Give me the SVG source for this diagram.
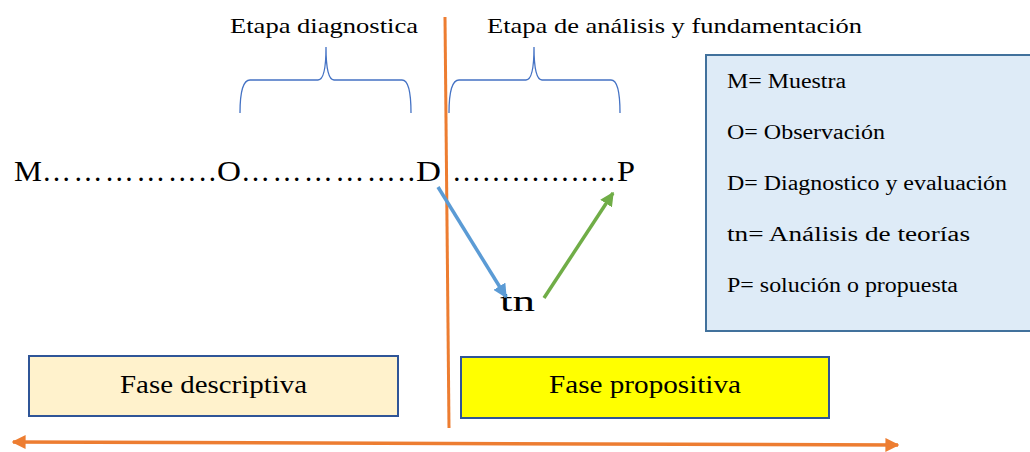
<svg xmlns="http://www.w3.org/2000/svg" width="1030" height="452" viewBox="0 0 1030 452">
<style>
text{font-family:'Liberation Serif','DejaVu Serif',serif;fill:#000}
.brace{fill:none;stroke:#4472C4;stroke-width:1.3}
.hdr{font-size:22px}
.leg{font-size:20px}
.big{font-size:29px}
.fase{font-size:25px}
</style>
<defs>
<marker id="ab" viewBox="0 0 10 10" refX="9" refY="5" markerWidth="4" markerHeight="4" orient="auto"><path d="M0,0 L10,5 L0,10 z" fill="#5B9BD5"/></marker>
<marker id="ag" viewBox="0 0 10 10" refX="9" refY="5" markerWidth="4" markerHeight="4" orient="auto"><path d="M0,0 L10,5 L0,10 z" fill="#70AD47"/></marker>
<marker id="ao" viewBox="0 0 10 10" refX="9" refY="5" markerWidth="4" markerHeight="4" orient="auto-start-reverse"><path d="M0,0 L10,5 L0,10 z" fill="#ED7D31"/></marker>
</defs>
<g id="headers">
<text class="hdr" x="230" y="33" textLength="188" lengthAdjust="spacingAndGlyphs">Etapa diagnostica</text>
<text class="hdr" x="487" y="33" textLength="375" lengthAdjust="spacingAndGlyphs">Etapa de análisis y fundamentación</text>
</g>
<g id="braces">
<path class="brace" d="M240,113 Q240,80 250,80 L318,80 Q326,80 326,47 Q326,80 334,80 L402,80 Q411,80 411,113"/>
<path class="brace" d="M449,113 Q449,80 459,80 L526,80 Q534,80 534,47 Q534,80 542,80 L611,80 Q620,80 620,113"/>
</g>
<g id="sequence">
<text class="big" x="14" y="181" textLength="28" lengthAdjust="spacingAndGlyphs">M</text>
<text class="big" x="42" y="181" textLength="174" lengthAdjust="spacing">……………..</text>
<text class="big" x="217" y="181" textLength="24" lengthAdjust="spacingAndGlyphs">O</text>
<text class="big" x="241" y="181" textLength="174" lengthAdjust="spacing">……………..</text>
<text class="big" x="416" y="181" textLength="25" lengthAdjust="spacingAndGlyphs">D</text>
<text class="big" x="452" y="181" textLength="163" lengthAdjust="spacing">……………..</text>
<text class="big" x="617" y="181" textLength="18" lengthAdjust="spacingAndGlyphs">P</text>
</g>
<g id="tn"><text class="big" x="500" y="311" textLength="35" lengthAdjust="spacingAndGlyphs">tn</text></g>
<g id="legend">
<rect x="706" y="55" width="330" height="276" fill="#DEEBF7" stroke="#41719C" stroke-width="2"/>
<text class="leg" x="727" y="88" textLength="119" lengthAdjust="spacingAndGlyphs">M= Muestra</text>
<text class="leg" x="727" y="139" textLength="158" lengthAdjust="spacingAndGlyphs">O= Observación</text>
<text class="leg" x="727" y="190" textLength="280" lengthAdjust="spacingAndGlyphs">D= Diagnostico y evaluación</text>
<text class="leg" x="727" y="241" textLength="243" lengthAdjust="spacingAndGlyphs">tn= Análisis de teorías</text>
<text class="leg" x="727" y="292" textLength="231" lengthAdjust="spacingAndGlyphs">P= solución o propuesta</text>
</g>
<g id="fase-descriptiva">
<rect x="29" y="356" width="369" height="60" fill="#FFF2CC" stroke="#2F5597" stroke-width="2"/>
<text class="fase" x="120" y="393" textLength="187" lengthAdjust="spacingAndGlyphs">Fase descriptiva</text>
</g>
<g id="fase-propositiva">
<rect x="461" y="357" width="368" height="61" fill="#FFFF00" stroke="#2F5597" stroke-width="2"/>
<text class="fase" x="549" y="393" textLength="192" lengthAdjust="spacingAndGlyphs">Fase propositiva</text>
</g>
<g id="connectors">
<line x1="445" y1="17" x2="449" y2="428" stroke="#ED7D31" stroke-width="3"/>
<line x1="438" y1="187" x2="506" y2="297" stroke="#5B9BD5" stroke-width="3.5" marker-end="url(#ab)"/>
<line x1="544" y1="298" x2="613" y2="193" stroke="#70AD47" stroke-width="3.5" marker-end="url(#ag)"/>
<line x1="13" y1="442" x2="898" y2="445" stroke="#ED7D31" stroke-width="3.5" marker-start="url(#ao)" marker-end="url(#ao)"/>
</g>
</svg>
